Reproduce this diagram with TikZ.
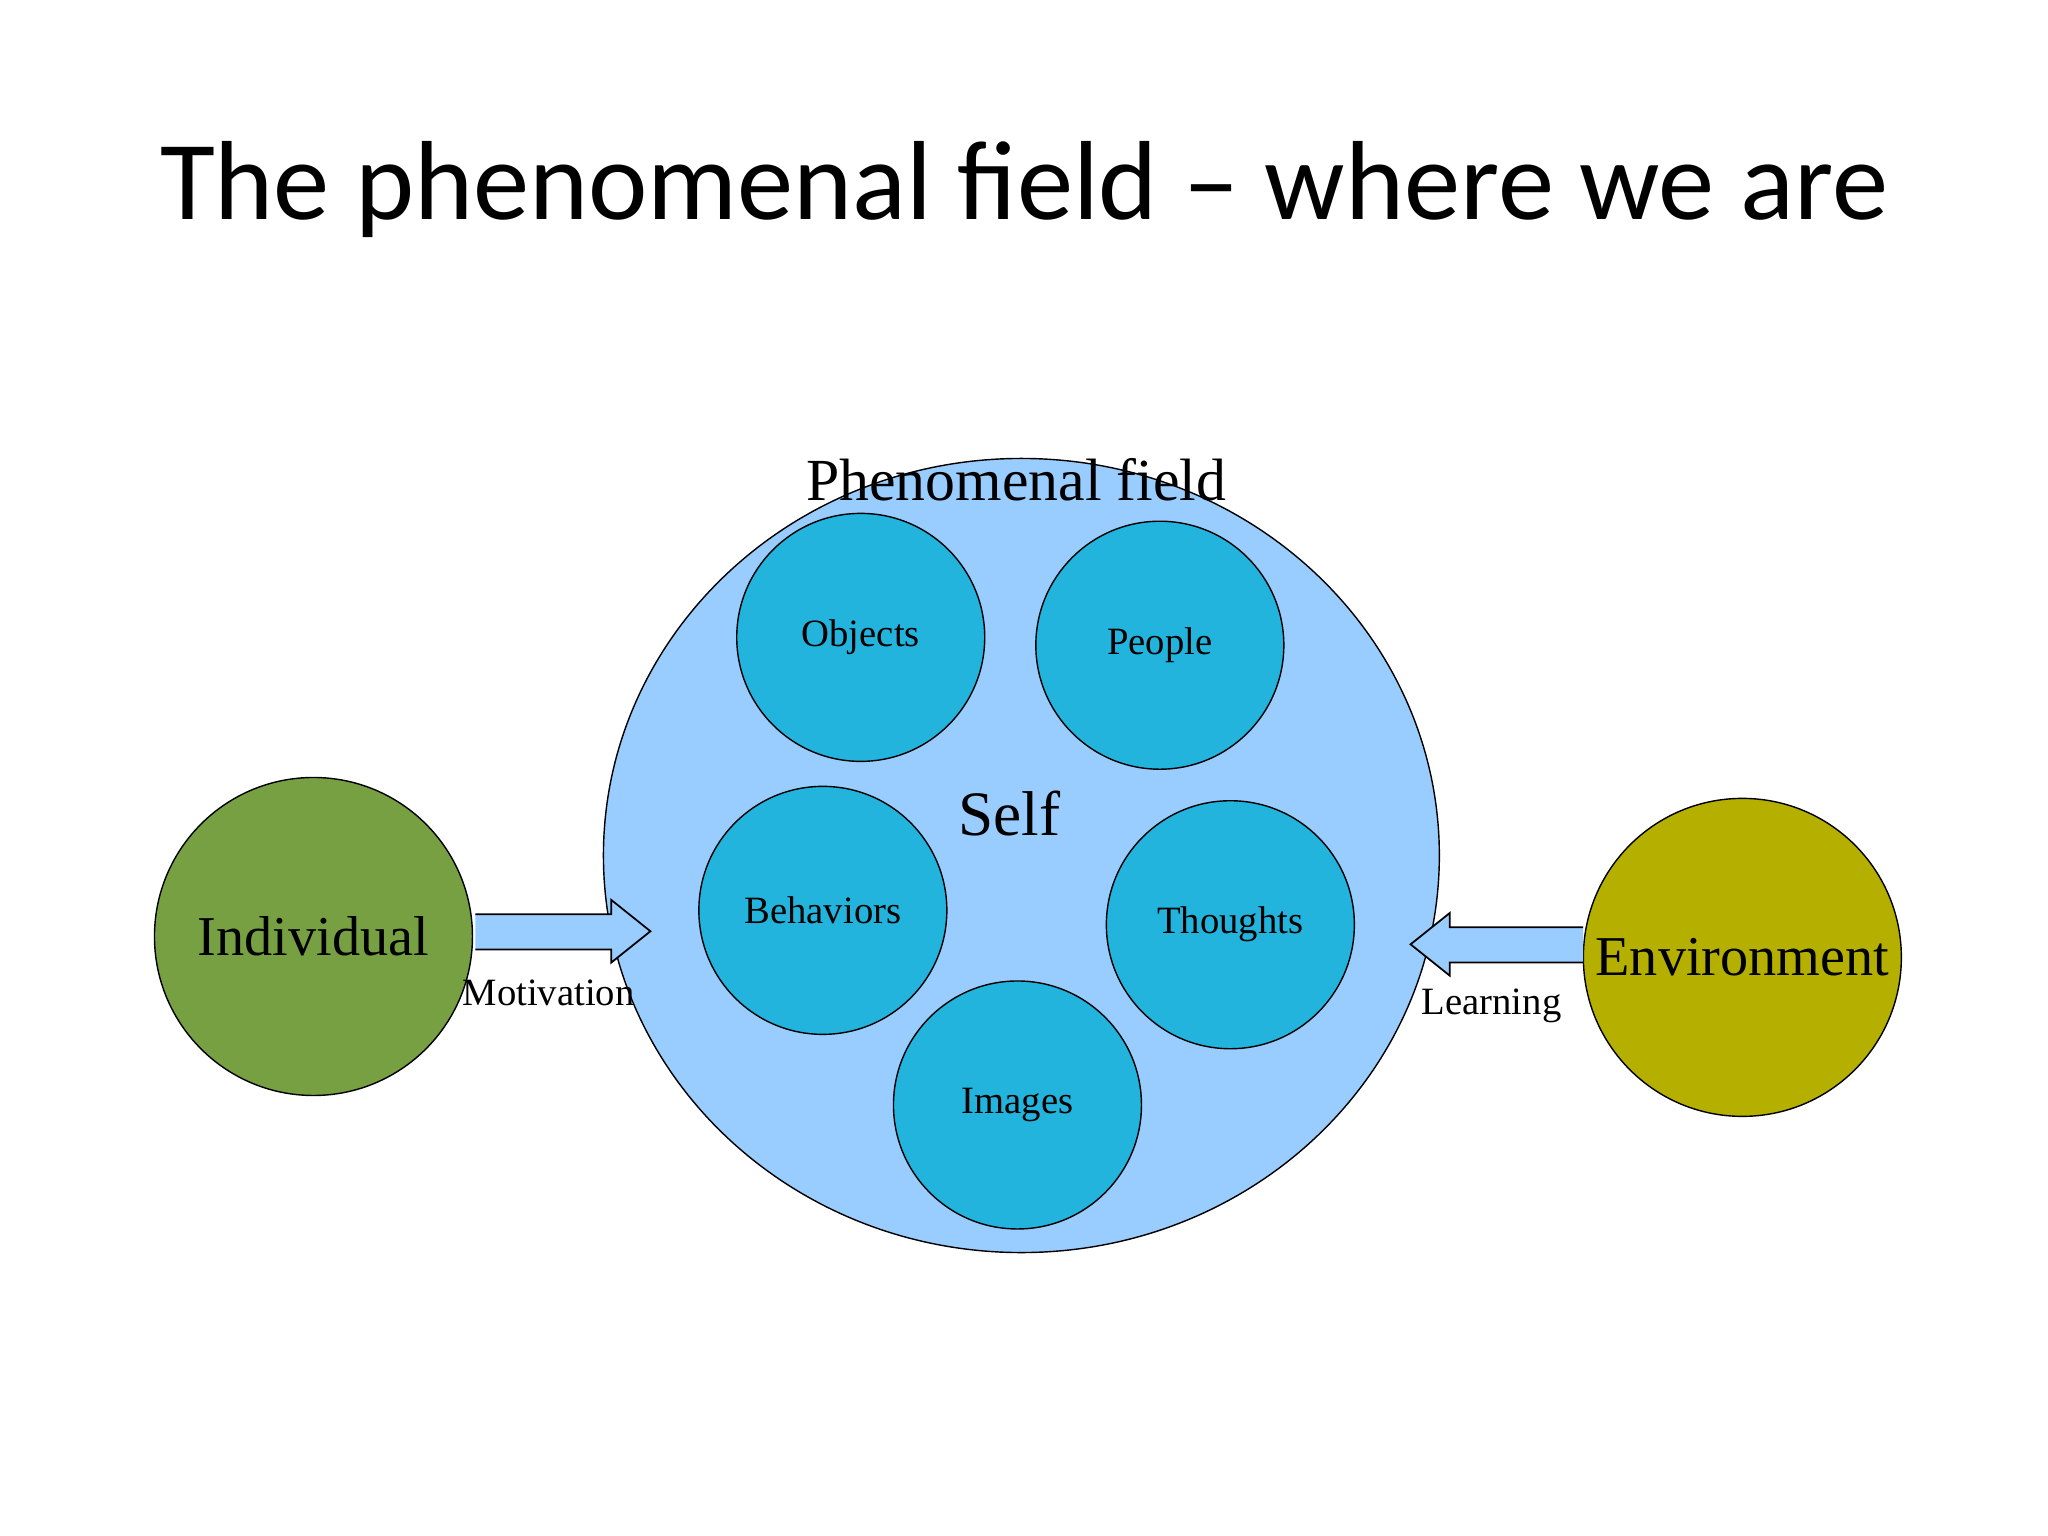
\documentclass[tikz,border=0pt]{standalone}
\usepackage{fontspec}
\setmainfont{Liberation Serif}
\newfontfamily\titlefont{Carlito}
\definecolor{fieldblue}{HTML}{99CCFF}
\definecolor{itemblue}{HTML}{22B4DC}
\definecolor{indgreen}{HTML}{77A043}
\definecolor{envolive}{HTML}{B5B000}
\tikzset{
  item/.style={circle,draw=black,fill=itemblue,minimum size=2.48cm,inner sep=0pt,font=\fontsize{11}{11}\selectfont},
  side/.style={circle,draw=black,minimum size=3.18cm,inner sep=0pt,font=\fontsize{16}{16}\selectfont},
  fatarrow/.style={draw=black,fill=fieldblue,line width=0.5pt},
  lbl/.style={font=\fontsize{11}{11}\selectfont}
}
\begin{document}
\begin{tikzpicture}[x=0.013061cm,y=-0.013061cm]
\useasboundingbox (0,0) rectangle (1568,1176);
\fill[white] (0,0) rectangle (1568,1176);
\node (title) at (784,145) {\titlefont\fontsize{32}{32}\selectfont The phenomenal field – where we are};
\draw[fill=fieldblue] (782,655) ellipse [x radius=320, y radius=304];
\node (field) at (782,655) {};
\node (pf) at (778,367) {\fontsize{17}{17}\selectfont Phenomenal field};
\node (self) at (773,623) {\fontsize{18}{18}\selectfont Self};
\node[item] (objects) at (659,488) {Objects};
\node[item] (people) at (888,494) {People};
\node[item] (behaviors) at (630,697) {Behaviors};
\node[item] (thoughts) at (942,708) {Thoughts};
\node[item] (images) at (779,846) {Images};
\node[side,fill=indgreen] (individual) at (240,717) {Individual};
\node[side,fill=envolive] (environment) at (1334,733) {Environment};
\draw[fatarrow] (364,700) -- (468,700) -- (468,689) -- (498,713) -- (468,737) -- (468,727) -- (364,727);
\node[lbl] (motivation) at (420,760) {Motivation};
\draw[fatarrow] (1212,710) -- (1110,710) -- (1110,699) -- (1080,723) -- (1110,747) -- (1110,737) -- (1212,737);
\node[lbl] (learning) at (1142,770) {Learning};
\end{tikzpicture}
\end{document}
